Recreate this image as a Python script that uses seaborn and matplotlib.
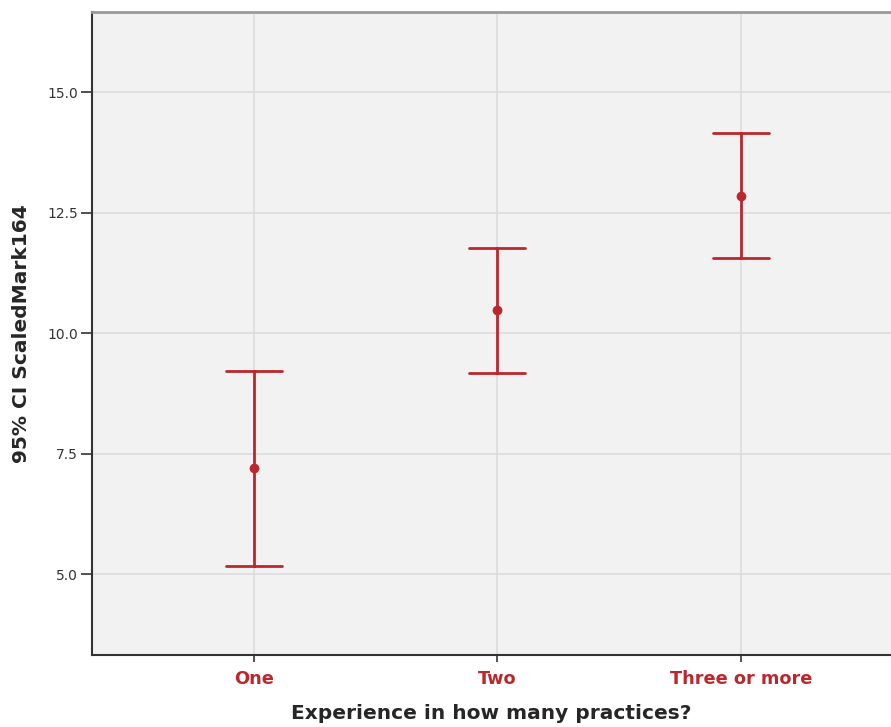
import pandas as pd
import seaborn as sns
import matplotlib.pyplot as plt

# Данные: нижняя граница, среднее, верхняя граница 95% ДИ
categories = ['One', 'Two', 'Three or more']
lower = [5.17, 9.17, 11.55]
means = [7.21, 10.48, 12.85]
upper = [9.22, 11.77, 14.14]

rows = []
for c, lo, m, hi in zip(categories, lower, means, upper):
    for v in (lo, m, hi):
        rows.append({'cat': c, 'val': v})
df = pd.DataFrame(rows)

red = '#bb272d'

sns.set_style('white')
plt.rcParams['font.family'] = ['DejaVu Sans']

fig = plt.figure(figsize=(8.91, 7.27), dpi=100)
ax = fig.add_axes([0.1033, 0.099, 0.8967, 0.8845])
ax.set_facecolor('#f2f2f2')

sns.pointplot(data=df, x='cat', y='val', order=categories,
              estimator='median', errorbar=('pi', 100),
              linestyle='none', color=red, capsize=0.23,
              err_kws={'linewidth': 2}, markersize=5, ax=ax)

ax.set_xlim(-0.665, 2.616)
ax.set_ylim(3.32, 16.66)
ax.set_yticks([5.0, 7.5, 10.0, 12.5, 15.0])
ax.set_yticklabels(['5.0', '7.5', '10.0', '12.5', '15.0'], fontsize=10, color='#333333')
ax.grid(True, color='#dcdcdc', linewidth=1.2)
ax.set_axisbelow(True)

for lbl in ax.get_xticklabels():
    lbl.set_color(red)
    lbl.set_fontweight('bold')
    lbl.set_fontsize(12.8)

ax.tick_params(axis='both', bottom=True, left=True, length=5, width=1.2,
               color='#333333', direction='out')
ax.tick_params(axis='x', pad=6)
ax.tick_params(axis='y', pad=2, length=8)

ax.spines['left'].set_color('#333333')
ax.spines['bottom'].set_color('#333333')
ax.spines['left'].set_linewidth(1.5)
ax.spines['bottom'].set_linewidth(1.5)
ax.spines['top'].set_color('#999999')
ax.spines['top'].set_linewidth(2)
ax.spines['right'].set_visible(False)

ax.set_xlabel('Experience in how many practices?', fontsize=14.5, fontweight='bold', labelpad=11)
ax.set_ylabel('95% CI ScaledMark164', fontsize=14.5, fontweight='bold', labelpad=12)

plt.savefig('out.png', dpi=100)
